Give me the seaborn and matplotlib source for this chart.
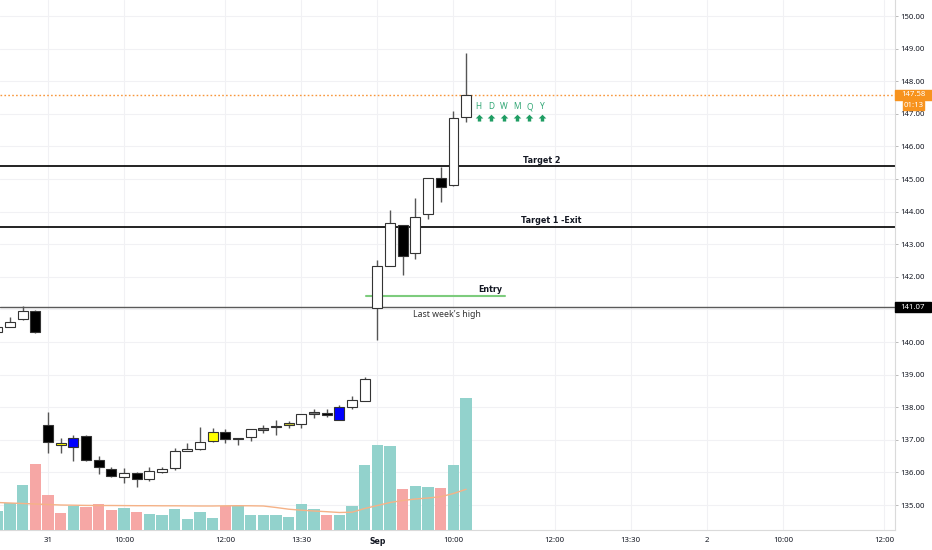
import numpy as np
import pandas as pd
import matplotlib
matplotlib.use("Agg")
import matplotlib.pyplot as plt
import seaborn as sns
from matplotlib.transforms import blended_transform_factory
from matplotlib.patches import Rectangle
from matplotlib.path import Path

# ---------------- data ----------------
idx = list(range(-1, 37))
opens = [140.31, 140.47, 140.70, 140.96, 137.45, 136.91, 136.79, 137.13, 136.37, 136.10,
         135.85, 135.97, 135.79, 136.02, 136.13, 136.67, 136.72, 136.97, 137.25, 137.05,
         137.10, 137.31, 137.38, 137.45, 137.48, 137.80, 137.83, 137.61, 138.00, 138.19,
         141.03, 142.33, 143.59, 142.74, 143.92, 145.02, 144.81, 146.89]
highs = [140.50, 140.78, 141.10, 140.98, 137.86, 137.05, 137.15, 137.14, 136.50, 136.17,
         136.13, 136.02, 136.16, 136.17, 136.74, 136.91, 137.38, 137.35, 137.32, 137.06,
         137.33, 137.45, 137.61, 137.58, 137.79, 137.94, 137.95, 138.07, 138.34, 138.92,
         142.52, 144.05, 143.60, 144.41, 145.04, 145.38, 147.09, 148.86]
lows = [140.28, 140.45, 140.68, 140.27, 136.60, 136.60, 136.36, 136.36, 135.95, 135.85,
        135.67, 135.54, 135.75, 135.97, 136.07, 136.66, 136.70, 136.94, 136.91, 136.84,
        136.97, 137.20, 137.15, 137.35, 137.35, 137.66, 137.71, 137.60, 137.94, 138.18,
        140.06, 142.32, 142.06, 142.54, 143.76, 144.30, 144.80, 146.76]
closes = [140.46, 140.62, 140.96, 140.30, 136.92, 136.83, 137.06, 136.38, 136.17, 135.90,
          135.99, 135.80, 136.04, 136.10, 136.67, 136.71, 136.92, 137.25, 137.02, 137.02,
          137.32, 137.33, 137.43, 137.52, 137.78, 137.82, 137.75, 138.01, 138.22, 138.86,
          142.33, 143.64, 142.64, 143.84, 145.04, 144.76, 146.88, 147.58]
body_kind = ['w', 'w', 'w', 'k', 'k', 'y', 'b', 'k', 'k', 'k',
             'w', 'k', 'w', 'w', 'w', 'w', 'w', 'y', 'k', 'k',
             'w', 'g', 'n', 'o', 'w', 'g', 'k', 'b', 'w', 'w',
             'w', 'w', 'k', 'w', 'w', 'k', 'w', 'w']
volumes = [19, 27, 45, 66, 35, 17, 24, 23, 26, 20,
           22, 18, 16, 15, 21, 11, 18, 12, 24, 24,
           15, 15, 15, 13, 26, 21, 15, 15, 24, 65,
           85, 84, 41, 44, 43, 42, 65, 132]
vol_dir = ['u', 'u', 'u', 'd', 'd', 'd', 'u', 'd', 'd', 'd',
           'u', 'd', 'u', 'u', 'u', 'u', 'u', 'u', 'd', 'u',
           'u', 'u', 'u', 'u', 'u', 'u', 'd', 'u', 'u', 'u',
           'u', 'u', 'd', 'u', 'u', 'd', 'u', 'u']
vol_ma = [27.5, 27.0, 26.5, 26.0, 25.5, 25.0, 24.8, 24.6, 24.5, 24.5,
          24.4, 24.3, 24.3, 24.2, 24.2, 24.1, 24.0, 24.0, 24.2, 24.3,
          24.2, 24.0, 22.5, 20.8, 19.8, 19.0, 18.3, 17.5, 17.8, 21.5,
          24.5, 27.5, 29.5, 31.0, 32.0, 33.3, 36.5, 40.7]

time_tick_pos = [3, 9, 17, 23, 29, 35, 43, 49, 55, 61, 69]
time_tick_labels = ["31", "10:00", "12:00", "13:30", "Sep", "10:00", "12:00", "13:30", "2", "10:00", "12:00"]
price_ticks = list(range(135, 151))

target2 = 145.40
target1 = 143.54
last_week_high = 141.07
entry_level = 141.42
entry_span = [28.1, 39.1]
last_price = 147.58
countdown = "01:13"

signal_letters = ["H", "D", "W", "M", "Q", "Y"]
signal_pos = [37, 38, 39, 40, 41, 42]
signal_letter_y = 147.21
signal_arrow_y = 146.87

# ---------------- styling ----------------
sns.set_theme(style="white")
plt.rcParams['font.family'] = ['Noto Sans', 'DejaVu Sans']
BOLD = ['DejaVu Sans']

colmap = {'w': 'white', 'k': 'black', 'b': '#0000ff', 'y': '#ffff00',
          'n': '#1a237e', 'o': '#c9c936', 'g': '#777777'}
vcol = {'u': '#92d2cc', 'd': '#f6a7a5'}

W, H = 932, 550
fig = plt.figure(figsize=(W / 100, H / 100), dpi=100)
rect = [0, 20 / H, 895 / W, 530 / H]
ax = fig.add_axes(rect)
axv = fig.add_axes(rect, sharex=ax)

xmin, xmax = (0 - 10) / 12.67, (895 - 10) / 12.67
ymin, ymax = 150 - (530 - 16) / 32.6, 150 + 16 / 32.6
ax.set_xlim(xmin, xmax)
ax.set_ylim(ymin, ymax)

# grid and scales
ax.set_xticks(time_tick_pos)
ax.set_xticklabels(time_tick_labels)
ax.set_yticks(price_ticks)
# the 141 label is hidden under the last-week's-high price box
ax.set_yticklabels(["" if p == 141 else f"{p:.2f}" for p in price_ticks])
ax.grid(True, color='#f1f1f4', lw=0.8, zorder=0)
ax.yaxis.tick_right()
ax.tick_params(axis='y', length=2, width=0.6, color='#b0b0b0', pad=2,
               labelsize=5.6, labelcolor='#131722', right=True, left=False)
ax.tick_params(axis='x', length=0, pad=5, labelsize=5.6, labelcolor='#131722')
for lbl in ax.get_xticklabels():
    if lbl.get_text() == "Sep":
        lbl.set_fontweight('bold')
        lbl.set_family(BOLD)
for s in ['top', 'left']:
    ax.spines[s].set_visible(False)
for s in ['right', 'bottom']:
    ax.spines[s].set_color('#dadada')
    ax.spines[s].set_linewidth(0.8)

# horizontal levels
ax.axhline(target2, color='#111111', lw=1.3, zorder=2)
ax.axhline(target1, color='#111111', lw=1.3, zorder=2)
ax.axhline(last_week_high, color='#5a5a5a', lw=1.0, zorder=2)
ax.axhline(last_price, color='#f7851a', lw=1.0, ls=(0, (1.2, 1.6)), alpha=0.85, zorder=2)
ax.plot(entry_span, [entry_level, entry_level], color='#7dcc7d', lw=1.5, zorder=2)

# candles
for i, o, h, l, c, k in zip(idx, opens, highs, lows, closes, body_kind):
    ax.vlines(i, l, h, color='#555555', lw=1.0, zorder=3)
    bot = min(o, c)
    ht = max(abs(c - o), 0.04)
    ax.bar(i, ht, bottom=bot, width=0.78, color=colmap[k],
           edgecolor='#333333', linewidth=0.8, zorder=4)

# volume
axv.set_ylim(0, 530)
axv.patch.set_visible(False)
axv.axis('off')
axv.bar(idx, volumes, width=0.9, color=[vcol[d] for d in vol_dir], linewidth=0, zorder=1)
sns.lineplot(x=idx, y=vol_ma, ax=axv, color='#f5b287', lw=1.0, zorder=2)
axv.set_xlim(xmin, xmax)

# annotations
tc = '#131722'
ax.text(42.0, target2 + 0.18, "Target 2", ha='center', va='center', fontsize=5.8,
        fontweight='bold', family=BOLD, color=tc, zorder=5)
ax.text(42.7, target1 + 0.20, "Target 1 -Exit", ha='center', va='center', fontsize=5.8,
        fontweight='bold', family=BOLD, color=tc, zorder=5)
ax.text(37.9, entry_level + 0.20, "Entry", ha='center', va='center', fontsize=5.8,
        fontweight='bold', family=BOLD, color=tc, zorder=5)
ax.text(34.45, last_week_high - 0.22, "Last week's high", ha='center', va='center',
        fontsize=6.3, color='#333333', zorder=5)

for p, s in zip(signal_pos, signal_letters):
    ax.text(p, signal_letter_y, s, ha='center', va='center', fontsize=6,
            color='#34a877', zorder=5)
arrow = Path([(-1, 0), (0, 1), (1, 0), (0.45, 0), (0.45, -0.8), (-0.45, -0.8), (-0.45, 0), (-1, 0)],
             closed=True)
ax.scatter(signal_pos, [signal_arrow_y] * len(signal_pos), marker=arrow, s=30,
           color='#1f9d63', linewidths=0, zorder=5)

# price labels on the scale
bt = blended_transform_factory(fig.transFigure, ax.transData)
ph = 9.4 / 32.6
ax.add_patch(Rectangle((895 / W, last_price - ph / 2), 37 / W, ph, transform=bt,
                       color='#f7931e', clip_on=False, zorder=6))
ax.text(913.5 / W, last_price, f"{last_price:.2f}", transform=bt, ha='center', va='center',
        fontsize=5.6, color='white', zorder=7, clip_on=False)
cy = last_price - 10.4 / 32.6
ax.add_patch(Rectangle((902.7 / W, cy - ph / 2), 21.5 / W, ph, transform=bt,
                       color='#f7931e', clip_on=False, zorder=6))
ax.text(913.5 / W, cy, countdown, transform=bt, ha='center', va='center',
        fontsize=5.6, color='white', zorder=7, clip_on=False)
ax.add_patch(Rectangle((895 / W, last_week_high - ph / 2), 36 / W, ph, transform=bt,
                       color='black', clip_on=False, zorder=6))
ax.text(913 / W, last_week_high, f"{last_week_high:.2f}", transform=bt, ha='center',
        va='center', fontsize=5.6, color='white', zorder=7, clip_on=False)

fig.savefig("out.png", dpi=100, facecolor='white')
